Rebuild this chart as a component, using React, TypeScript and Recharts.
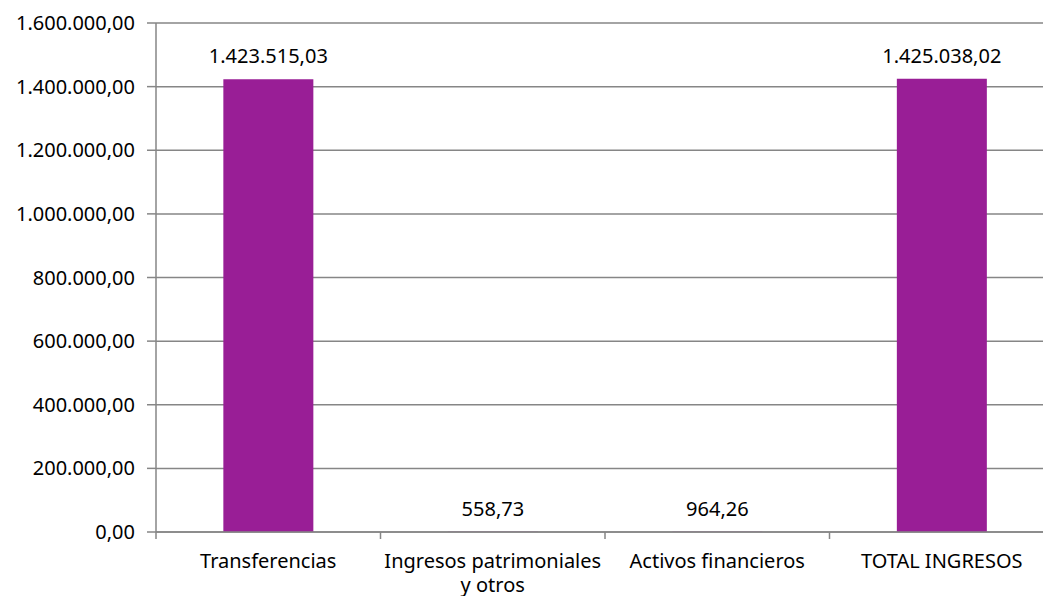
import React from "react";
import { BarChart, Bar, XAxis, YAxis, CartesianGrid, LabelList } from "recharts";

const categories = [
  "Transferencias",
  "Ingresos patrimoniales y otros",
  "Activos financieros",
  "TOTAL INGRESOS",
];
const values = [1423515.03, 558.73, 964.26, 1425038.02];
const yTicks = [0, 200000, 400000, 600000, 800000, 1000000, 1200000, 1400000, 1600000];

const data = categories.map((name, i) => ({ name, value: values[i] }));

const FONT = "'Noto Sans', sans-serif";
const FS = 20;
const GRID = "#868686";

function fmt(v: number): string {
  const [intPart, dec] = Math.abs(v).toFixed(2).split(".");
  const withDots = intPart.replace(/\B(?=(\d{3})+(?!\d))/g, ".");
  return (v < 0 ? "-" : "") + withDots + "," + dec;
}

function wrap(text: string, maxChars: number): string[] {
  const words = text.split(" ");
  const lines: string[] = [];
  let cur = "";
  for (const w of words) {
    const next = cur ? cur + " " + w : w;
    if (next.length > maxChars && cur) {
      lines.push(cur);
      cur = w;
    } else {
      cur = next;
    }
  }
  if (cur) lines.push(cur);
  return lines;
}

const CategoryTick = (props: any) => {
  const { x, y, payload, index, visibleTicksCount } = props;
  const half = payload && payload.offset != null ? payload.offset : 112.25;
  const lines = wrap(String(payload.value), 22);
  const isLast = index === (visibleTicksCount ?? categories.length) - 1;
  return (
    <g>
      <line x1={x - half} x2={x - half} y1={y} y2={y + 7} stroke={GRID} strokeWidth={1.5} />
      {isLast && (
        <line x1={x + half} x2={x + half} y1={y} y2={y + 7} stroke={GRID} strokeWidth={1.5} />
      )}
      <text x={x} y={y + 36} textAnchor="middle" fill="#000" fontSize={FS} fontFamily={FONT}>
        {lines.map((l, i) => (
          <tspan key={i} x={x} dy={i === 0 ? 0 : 24}>
            {l}
          </tspan>
        ))}
      </text>
    </g>
  );
};

export default function App() {
  return (
    <div style={{ position: "absolute", left: 0, top: 0, width: 1043, height: 596, overflow: "hidden", background: "#fff" }}>
      <BarChart
        width={1060}
        height={596}
        data={data}
        margin={{ top: 23, right: 6, bottom: 0, left: 0 }}
        barCategoryGap="30%"
        style={{ fontFamily: FONT }}
      >
        <CartesianGrid vertical={false} stroke={GRID} strokeWidth={1.5} />
        <XAxis
          dataKey="name"
          height={64}
          axisLine={{ stroke: GRID, strokeWidth: 1.5 }}
          tickLine={false}
          tickSize={0}
          tickMargin={0}
          interval={0}
          tick={<CategoryTick />}
        />
        <YAxis
          width={156}
          domain={[0, 1600000]}
          ticks={yTicks}
          tickFormatter={fmt}
          axisLine={{ stroke: GRID, strokeWidth: 1.5 }}
          tickLine={{ stroke: GRID, strokeWidth: 1.5 }}
          tickSize={9}
          tickMargin={12}
          tick={{ fill: "#000", fontSize: FS, fontFamily: FONT }}
          interval={0}
        />
        <Bar dataKey="value" fill="#991e96" isAnimationActive={false}>
          <LabelList
            dataKey="value"
            position="top"
            offset={16}
            formatter={(v: any) => fmt(Number(v))}
            fill="#000"
            fontSize={FS}
            fontFamily={FONT}
          />
        </Bar>
      </BarChart>
    </div>
  );
}
